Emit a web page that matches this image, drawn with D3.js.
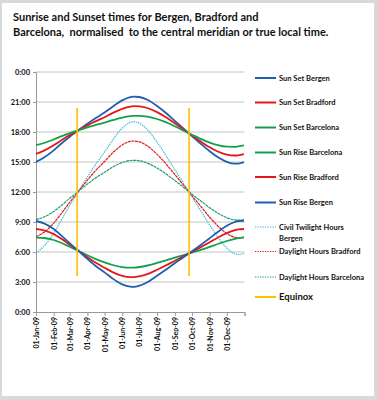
<!DOCTYPE html>
<html><head><meta charset="utf-8">
<script src="https://cdn.jsdelivr.net/npm/d3@7"></script>
<style>
html,body{margin:0;padding:0;background:#fff;}
text{font-family:Lato,"Open Sans",sans-serif;font-weight:bold;fill:#111;}
</style></head>
<body>
<svg id="chart" width="378" height="400"></svg>
<script>
// ---- data (hours, true local time) ----
const dates = ["2009-01-01","2009-01-15","2009-02-01","2009-02-15","2009-03-01","2009-03-15","2009-04-01","2009-04-15","2009-05-01","2009-05-15","2009-06-01","2009-06-15","2009-06-21","2009-07-01","2009-07-15","2009-08-01","2009-08-15","2009-09-01","2009-09-15","2009-10-01","2009-10-15","2009-11-01","2009-11-15","2009-12-01","2009-12-15","2009-12-21","2009-12-31"];
const sunSetBergen    = [15.01,15.44,16.16,16.87,17.53,18.12,18.82,19.37,19.95,20.53,21.16,21.49,21.54,21.50,21.22,20.60,19.97,19.12,18.41,17.59,16.89,16.08,15.50,15.02,14.83,14.84,14.98];
const sunSetBradford  = [15.82,16.14,16.67,17.19,17.69,18.14,18.66,19.06,19.48,19.89,20.32,20.54,20.58,20.57,20.40,19.99,19.53,18.88,18.31,17.65,17.10,16.47,16.05,15.74,15.65,15.67,15.79];
const sunSetBarcelona = [16.68,16.90,17.25,17.58,17.89,18.16,18.47,18.69,18.94,19.18,19.44,19.58,19.61,19.62,19.54,19.30,19.01,18.58,18.18,17.73,17.35,16.94,16.69,16.53,16.52,16.56,16.66];
const sunRiseBarcelona= [7.44,7.40,7.20,6.90,6.52,6.15,5.67,5.31,4.97,4.70,4.49,4.43,4.44,4.50,4.65,4.91,5.14,5.43,5.66,5.94,6.18,6.51,6.80,7.10,7.31,7.38,7.43];
const sunRiseBradford = [8.30,8.17,7.79,7.29,6.73,6.17,5.47,4.94,4.43,3.99,3.61,3.48,3.48,3.56,3.79,4.23,4.62,5.13,5.54,6.01,6.44,6.98,7.43,7.89,8.18,8.26,8.30];
const sunRiseBergen   = [9.10,8.86,8.29,7.61,6.88,6.18,5.31,4.63,3.96,3.35,2.76,2.53,2.51,2.63,2.98,3.62,4.18,4.88,5.43,6.07,6.64,7.38,7.99,8.62,9.00,9.10,9.11];
const twilightBergen  = [5.91,6.58,7.87,9.26,10.65,11.94,13.51,14.74,15.99,17.18,18.40,18.96,19.03,18.87,18.24,16.98,15.79,14.24,12.98,11.52,10.25,8.70,7.51,6.40,5.83,5.74,5.87];
const daylightBradford= [7.52,7.97,8.88,9.90,10.96,11.97,13.19,14.12,15.05,15.90,16.71,17.06,17.10,17.01,16.61,15.76,14.91,13.75,12.77,11.64,10.66,9.49,8.62,7.85,7.47,7.41,7.49];
const daylightBarcelona=[9.24,9.50,10.05,10.68,11.37,12.01,12.80,13.38,13.97,14.48,14.95,15.15,15.17,15.12,14.89,14.39,13.87,13.15,12.52,11.79,11.17,10.43,9.89,9.43,9.21,9.18,9.23];
const equinoxDates = ["2009-03-14","2009-09-26"];
const equinoxSpan = [3.6, 20.4];
const hourTicks = [0,3,6,9,12,15,18,21,24];
const titleLines = ["Sunrise and Sunset times for Bergen, Bradford and","Barcelona,  normalised  to the central meridian or true local time."];

const seriesNames = ["Sun Set Bergen","Sun Set Bradford","Sun Set Barcelona","Sun Rise Barcelona","Sun Rise Bradford","Sun Rise Bergen","Civil Twilight Hours Bergen","Daylight Hours Bradford","Daylight Hours Barcelona"];
const seriesValues = [sunSetBergen,sunSetBradford,sunSetBarcelona,sunRiseBarcelona,sunRiseBradford,sunRiseBergen,twilightBergen,daylightBradford,daylightBarcelona];
const seriesColors = ["#1f5fae","#e3171c","#13a04c","#13a04c","#e3171c","#1f5fae","#3dbcd6","#e3171c","#1ea070"];
const seriesDash = [null,null,null,null,null,null,"1.4,0.9","3,0.6","3,0.6"];
const legendDash = [null,null,null,null,null,null,"1.3,1.2","1.3,1.2","1.3,1.2"];

// ---- drawing ----
const parse = d3.timeParse("%Y-%m-%d");
const svg = d3.select("#chart");
svg.append("rect").attr("width",378).attr("height",400).attr("fill","#d9d9d9");
svg.append("rect").attr("x",2).attr("y",3).attr("width",372).attr("height",393).attr("fill","#fff");

const x = d3.scaleTime().domain([parse("2009-01-01"), parse("2010-01-01")]).range([36,244.5]);
const y = d3.scaleLinear().domain([0,24]).range([312,72]);

// title
svg.append("g").selectAll("text").data(titleLines).join("text")
  .attr("x",13).attr("y",(d,i)=>20.5+i*15.5)
  .style("font-size","11px").style("white-space","pre").attr("xml:space","preserve").text(d=>d);

// gridlines
svg.append("g").selectAll("line").data(hourTicks.filter(h=>h>0)).join("line")
  .attr("x1",36).attr("x2",244.5).attr("y1",d=>y(d)).attr("y2",d=>y(d))
  .attr("stroke","#c4c4c4").attr("stroke-width",1);

// y axis
const yAxis = d3.axisLeft(y).tickValues(hourTicks).tickSize(3).tickFormat(h=>(h%24)+":00");
const gy = svg.append("g").attr("transform","translate(36,0)").call(yAxis);
gy.selectAll("path,line").attr("stroke","#999");
gy.selectAll("text").style("font-size","7.5px").attr("x",-6);

// x axis
const months = d3.timeMonth.range(parse("2009-01-01"), parse("2010-01-02"));
const xAxis = d3.axisBottom(x).tickValues(months).tickSize(4)
  .tickFormat(d => d.getFullYear()===2009 ? d3.timeFormat("%d-%b-%y")(d) : "");
const gx = svg.append("g").attr("transform","translate(0,312)").call(xAxis);
gx.selectAll("path,line").attr("stroke","#999");
gx.selectAll("text").style("font-size","7px")
  .attr("transform","rotate(-90)").attr("text-anchor","end")
  .attr("x",-5).attr("y",0).attr("dy","0.35em");

// series lines
const line = d3.line().x(d=>x(d.date)).y(d=>y(d.v)).curve(d3.curveMonotoneX);
const order = [6,7,8,0,1,2,3,4,5];
order.forEach(i=>{
  const pts = dates.map((d,k)=>({date:parse(d), v:seriesValues[i][k]}));
  svg.append("path").datum(pts).attr("d",line).attr("fill","none")
    .attr("stroke",seriesColors[i])
    .attr("stroke-width",seriesDash[i]?1.2:1.8)
    .attr("stroke-dasharray",seriesDash[i]);
});

// equinox
svg.append("g").selectAll("line").data(equinoxDates).join("line")
  .attr("x1",d=>x(parse(d))).attr("x2",d=>x(parse(d)))
  .attr("y1",y(equinoxSpan[1])).attr("y2",y(equinoxSpan[0]))
  .attr("stroke","#ffc000").attr("stroke-width",1.6);

// legend
const legY = [78,102.5,127.5,152.5,177,202.5,227,251.5,277];
const lg = svg.append("g");
seriesNames.forEach((n,i)=>{
  lg.append("line").attr("x1",255).attr("x2",276).attr("y1",legY[i]).attr("y2",legY[i])
    .attr("stroke",seriesColors[i]).attr("stroke-width",legendDash[i]?1.2:2)
    .attr("stroke-dasharray",legendDash[i]);
  const t = lg.append("text").attr("x",279).attr("y",legY[i]).attr("dy","0.35em").style("font-size","7.5px");
  if(n==="Civil Twilight Hours Bergen"){
    t.append("tspan").text("Civil Twilight Hours");
    t.append("tspan").attr("x",279).attr("dy","11").text("Bergen");
  } else t.text(n);
});
lg.append("line").attr("x1",255).attr("x2",276).attr("y1",297).attr("y2",297)
  .attr("stroke","#ffc000").attr("stroke-width",2);
lg.append("text").attr("x",279).attr("y",297).attr("dy","0.35em").style("font-size","9.5px").text("Equinox");
</script>
</body></html>
